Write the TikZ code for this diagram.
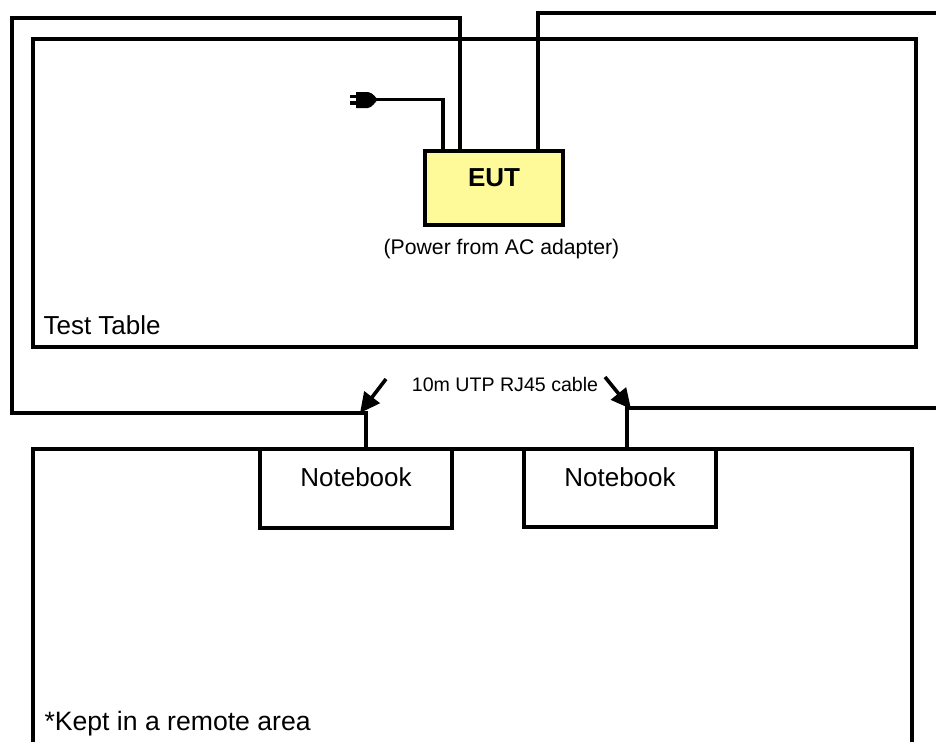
\documentclass[tikz,border=0pt]{standalone}
\usepackage{fontspec}
\setmainfont{Liberation Sans}
\usetikzlibrary{arrows.meta}
\tikzset{
  cable/.style={line width=3.6pt,line join=miter},
  box/.style={draw,line width=3.6pt,inner sep=0pt,outer sep=0pt,anchor=north west,font=\fontsize{26}{30}\selectfont},
  lead/.style={line width=3.6pt,-{Triangle[length=20pt,width=19pt]}},
}
\begin{document}
\begin{tikzpicture}[x=1pt,y=-1pt]
\useasboundingbox (0,0) rectangle (936,742);
\node (table) at (33,39) [box,minimum width=883pt,minimum height=308pt] {};
\node (eut) at (425,151) [box,fill=yellow!40,minimum width=138pt,minimum height=74pt] {};
\node at (494,178) [font=\bfseries\fontsize{26}{30}\selectfont] {EUT};
\node at (501.5,249) [font=\fontsize{21.2}{25}\selectfont] {(Power from AC adapter)};
\node at (40,325) [anchor=west,font=\fontsize{26}{30}\selectfont] {Test Table};
\node (cablelabel) at (505,384) [font=\fontsize{19.6}{24}\selectfont] {10m UTP RJ45 cable};
\draw [cable] (33,742) -- (33,449) -- (912,449) -- (912,742);
\node at (41,724) [anchor=west,font=\fontsize{26.6}{30}\selectfont] {*Kept in a remote area};
\node (noteA) at (260,449) [box,fill=white,minimum width=192pt,minimum height=79pt] {};
\node (noteB) at (524,449) [box,fill=white,minimum width=192pt,minimum height=78pt] {};
\node at (356,477) [font=\fontsize{26}{30}\selectfont] {Notebook};
\node at (620,477) [font=\fontsize{26}{30}\selectfont] {Notebook};
\coordinate (plugend) at (374,99.5);
\coordinate (edgeA) at (936,13);
\coordinate (edgeB) at (936,408);
\coordinate (leadA) at (386,379);
\coordinate (leadB) at (605,377);
\coordinate (tipA) at (360,413);
\coordinate (tipB) at (631,409);
% plug
\fill (356,92) -- (368,92) .. controls (373,93) and (375,97) .. (378,99.5) .. controls (375,102) and (373,107) .. (368,108) -- (356,108) -- cycle;
\fill (350,94.5) rectangle (358,98);
\fill (350,101) rectangle (358,104.5);
\draw [cable] (eut.north west) ++(18,0) |- (plugend);
\draw [cable] (eut.north west) ++(35,0) -- ++(0,-133) -- ++(-448,0) -- ++(0,395) -- ++(354,0) -- (noteA.north west -| 366,0);
\draw [cable] (eut.north west) ++(113,0) |- (edgeA);
\draw [cable] (noteB.north west) ++(103,0) |- (edgeB);
\draw [lead] (leadA) -- (tipA);
\draw [lead] (leadB) -- (tipB);
\end{tikzpicture}
\end{document}
